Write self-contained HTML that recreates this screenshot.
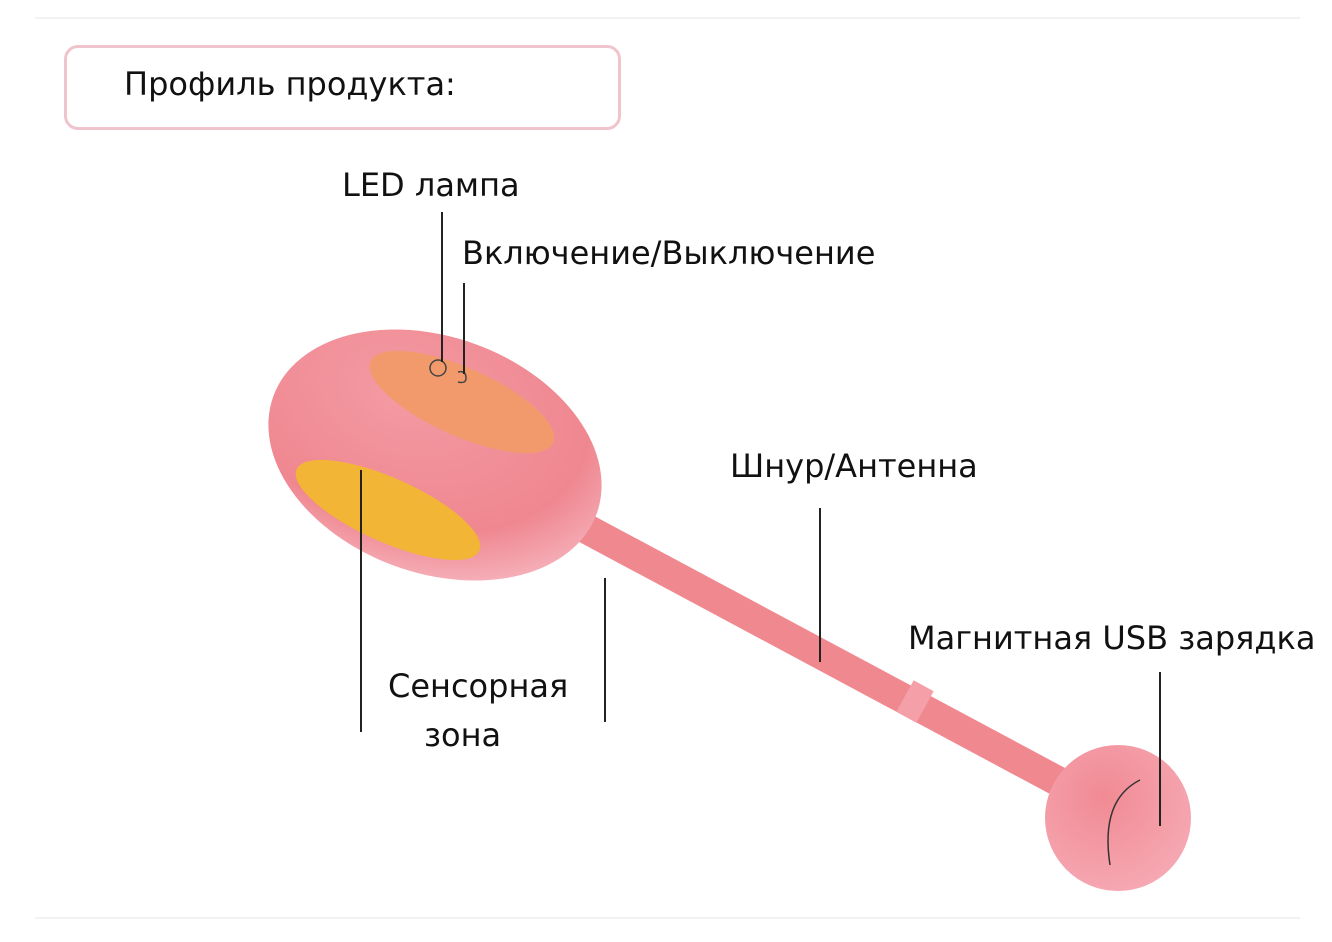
<!DOCTYPE html>
<html><head><meta charset="utf-8"><style>
body{margin:0;background:#fff;width:1332px;height:942px;overflow:hidden;position:relative;font-family:"DejaVu Sans","Liberation Sans",sans-serif;}
.t{position:absolute;font-size:32px;color:#111;white-space:nowrap;line-height:1;}
</style></head><body>
<div style="position:absolute;left:35px;top:17px;width:1265px;height:2px;background:#f2f2f2"></div>
<div style="position:absolute;left:35px;top:917px;width:1265px;height:2px;background:#f2f2f2"></div>
<div style="position:absolute;left:64px;top:45px;width:551px;height:79px;border:3px solid #f0c4cc;border-radius:14px"></div>
<div class="t" style="left:124px;top:68px;font-size:32px">Профиль продукта:</div>
<svg width="1332" height="942" style="position:absolute;left:0;top:0">
<defs>
<radialGradient id="g" cx="0.35" cy="0.3" r="0.8"><stop offset="0" stop-color="#f49aa3"/><stop offset="0.7" stop-color="#ef8790"/><stop offset="1" stop-color="#f7b8c2"/></radialGradient>
<radialGradient id="b" cx="0.4" cy="0.35" r="0.7"><stop offset="0" stop-color="#f18a93"/><stop offset="1" stop-color="#f6a9b4"/></radialGradient>
</defs>
<line x1="570" y1="520" x2="1065" y2="785" stroke="#f08890" stroke-width="30" stroke-linecap="round"/>
<line x1="905" y1="696" x2="925" y2="707" stroke="#f5a0a8" stroke-width="36"/>
<g transform="rotate(20 435 455)">
<ellipse cx="435" cy="455" rx="172" ry="118" fill="url(#g)"/>
</g>
<ellipse cx="462" cy="402" rx="100" ry="34" fill="#f29a6c" transform="rotate(24 462 402)"/>
<ellipse cx="388" cy="510" rx="100" ry="32" fill="#f3b536" transform="rotate(24 388 510)"/>
<circle cx="438" cy="368" r="8" fill="none" stroke="#444" stroke-width="1.5"/>
<path d="M458 372 q8 -2 8 6 q0 6 -8 4" fill="none" stroke="#444" stroke-width="1.5"/>
<circle cx="1118" cy="818" r="73" fill="url(#b)"/>
<path d="M1140 780 q-40 20 -30 85" fill="none" stroke="#333" stroke-width="1.5"/>
<g stroke="#222" stroke-width="2">
<line x1="442" y1="212" x2="442" y2="362"/>
<line x1="464" y1="283" x2="464" y2="374"/>
<line x1="820" y1="508" x2="820" y2="662"/>
<line x1="1160" y1="672" x2="1160" y2="826"/>
<line x1="361" y1="470" x2="361" y2="732"/>
<line x1="605" y1="578" x2="605" y2="722"/>
</g>
</svg>
<div class="t" style="left:342px;top:169px">LED лампа</div>
<div class="t" style="left:462px;top:237px">Включение/Выключение</div>
<div class="t" style="left:730px;top:450px">Шнур/Антенна</div>
<div class="t" style="left:908px;top:622px">Магнитная USB зарядка</div>
<div class="t" style="left:388px;top:670px">Сенсорная</div>
<div class="t" style="left:424px;top:719px">зона</div>
</body></html>
